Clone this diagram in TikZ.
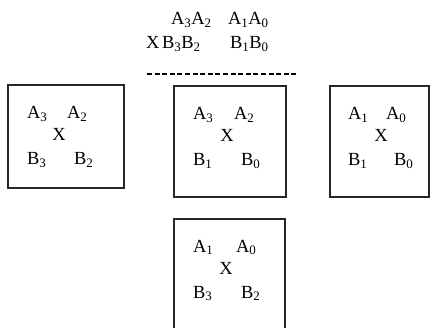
\documentclass[tikz,border=0pt]{standalone}
\usepackage{fontspec}
\setmainfont{Liberation Serif}
\newcommand\sbx[1]{\textsubscript{#1}}
\begin{document}
\begin{tikzpicture}[x=1pt,y=-1pt,
  txt/.style={anchor=base west,inner sep=0pt,outer sep=0pt,font=\fontsize{18.5}{22}\selectfont},
  ctxt/.style={anchor=base,inner sep=0pt,outer sep=0pt,font=\fontsize{18.5}{22}\selectfont},
  box/.style={draw=black!85,line width=1.2pt,inner sep=0pt,outer sep=0pt,fill=none}]
\clip (0,0) rectangle (435,328);
\fill[white] (0,0) rectangle (435,328);
% header
\node[txt] (h1a) at (171,25) {A\sbx{3}A\sbx{2}};
\node[txt] (h1b) at (228,25) {A\sbx{1}A\sbx{0}};
\node[txt] (h2x) at (146,49) {X};
\node[txt] (h2a) at (162,49) {B\sbx{3}B\sbx{2}};
\node[txt] (h2b) at (230,49) {B\sbx{1}B\sbx{0}};
\coordinate (dl) at (147,74);
\coordinate (dr) at (298,74);
\draw[line width=1.1pt,dash pattern=on 5pt off 2.6pt] (dl) -- (dr);
% boxes
\node[box,minimum width=116pt,minimum height=103pt] (box1) at (66,136.5) {};
\node[box,minimum width=112pt,minimum height=111pt] (box2) at (230,141.5) {};
\node[box,minimum width=99pt,minimum height=111pt] (box3) at (379.5,141.5) {};
\node[box,minimum width=111pt,minimum height=121pt] (box4) at (229.5,279.5) {};
% box1
\node[txt] (b1a3) at (27,119) {A\sbx{3}};
\node[txt] (b1a2) at (67,119) {A\sbx{2}};
\node[ctxt] (b1x) at (59,141) {X};
\node[txt] (b1b3) at (27,165) {B\sbx{3}};
\node[txt] (b1b2) at (74,165) {B\sbx{2}};
% box2
\node[txt] (b2a3) at (193,120) {A\sbx{3}};
\node[txt] (b2a2) at (234,120) {A\sbx{2}};
\node[ctxt] (b2x) at (227,142) {X};
\node[txt] (b2b1) at (193,166) {B\sbx{1}};
\node[txt] (b2b0) at (241,166) {B\sbx{0}};
% box3
\node[txt] (b3a1) at (348,120) {A\sbx{1}};
\node[txt] (b3a0) at (386,120) {A\sbx{0}};
\node[ctxt] (b3x) at (381,142) {X};
\node[txt] (b3b1) at (348,166) {B\sbx{1}};
\node[txt] (b3b0) at (394,166) {B\sbx{0}};
% box4
\node[txt] (b4a1) at (193,252) {A\sbx{1}};
\node[txt] (b4a0) at (236,252) {A\sbx{0}};
\node[ctxt] (b4x) at (226,274) {X};
\node[txt] (b4b3) at (193,298) {B\sbx{3}};
\node[txt] (b4b2) at (241,298) {B\sbx{2}};
\end{tikzpicture}
\end{document}
